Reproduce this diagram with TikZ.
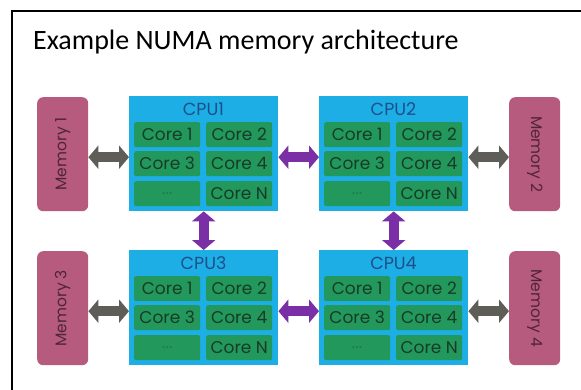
\documentclass[tikz,border=0pt]{standalone}
\usepackage{fontspec}
\setmainfont{Carlito}
\newfontfamily\labelfont{Poppins}
\usetikzlibrary{arrows.meta,positioning}

\definecolor{memfill}{HTML}{B75B7E}
\definecolor{memtext}{HTML}{4E2535}
\definecolor{cpufill}{HTML}{1DAEE6}
\definecolor{cputext}{HTML}{1C4F8C}
\definecolor{corefill}{HTML}{22985C}
\definecolor{coretext}{HTML}{173B27}
\definecolor{membus}{HTML}{5E5D57}
\definecolor{cpubus}{HTML}{7A2FA6}

\tikzset{
  memory/.style={draw=none, fill=memfill, rounded corners=6pt,
    minimum width=51pt, minimum height=114pt, inner sep=0pt, anchor=north west},
  memlabel/.style={font=\labelfont\fontsize{15.5}{15.5}\selectfont, text=memtext},
  cpubox/.style={draw=none, fill=cpufill, minimum width=149pt,
    minimum height=115pt, inner sep=0pt, anchor=north west},
  cputitle/.style={font=\labelfont\fontsize{17.5}{17.5}\selectfont, text=cputext},
  core/.style={fill=corefill, rounded corners=2pt, minimum width=66pt,
    minimum height=25pt, inner sep=0pt, anchor=north west,
    font=\labelfont\fontsize{17}{17}\selectfont, text=coretext},
  bus/.style={line width=10pt, {Triangle[length=10pt,width=23pt]}-{Triangle[length=10pt,width=23pt]}},
  membusline/.style={bus, draw=membus},
  cpubusline/.style={bus, draw=cpubus},
}

% one CPU package with its grid of cores
\newcommand{\cpupackage}[4]{% name, x, y, number
  \node[cpubox] (#1) at (#2,#3) {};
  \node[cputitle] (#1t) at (#2+74.5,#3+13) {CPU#4};
  \node[core] (#1c1) at (#2+5,#3+26) {Core 1};
  \node[core] (#1c2) at (#2+77,#3+26) {Core 2};
  \node[core] (#1c3) at (#2+5,#3+55) {Core 3};
  \node[core] (#1c4) at (#2+77,#3+55) {Core 4};
  \node[core] (#1c5) at (#2+5,#3+85) {\textcolor{corefill!70!coretext}{...}};
  \node[core] (#1c6) at (#2+77,#3+85) {Core N};
}

\begin{document}
\begin{tikzpicture}[x=1pt,y=-1pt]
  \useasboundingbox (0,0) rectangle (581,389);
  \clip (0,0) rectangle (581,389);
  \fill[white] (0,0) rectangle (581,389);

  % open frame running off the right and bottom edges
  \draw[line width=1.8pt] (12,400) -- (12,11) -- (600,11);
  \node[anchor=base west, inner sep=0pt, font=\fontsize{28}{28}\selectfont] (title) at (33,49) {Example NUMA memory architecture};

  % memory banks
  \node[memory] (mem1) at (37,97) {};
  \node[memory] (mem2) at (509,97) {};
  \node[memory] (mem3) at (37,251) {};
  \node[memory] (mem4) at (509,251) {};
  \node[memlabel, rotate=90] (mem1l) at (mem1.center) {Memory 1};
  \node[memlabel, rotate=-90] (mem2l) at (mem2.center) {Memory 2};
  \node[memlabel, rotate=90] (mem3l) at (mem3.center) {Memory 3};
  \node[memlabel, rotate=-90] (mem4l) at (mem4.center) {Memory 4};

  % processors
  \cpupackage{cpu1}{129}{96}{1}
  \cpupackage{cpu2}{319}{96}{2}
  \cpupackage{cpu3}{129}{250}{3}
  \cpupackage{cpu4}{319}{250}{4}

  % memory buses
  \draw[membusline] ([yshift=-3pt]mem1.east) -- ([yshift=-3pt]mem1.east -| cpu1.west);
  \draw[membusline] ([yshift=-3pt]mem2.west) -- ([yshift=-3pt]mem2.west -| cpu2.east);
  \draw[membusline] ([yshift=-3pt]mem3.east) -- ([yshift=-3pt]mem3.east -| cpu3.west);
  \draw[membusline] ([yshift=-3pt]mem4.west) -- ([yshift=-3pt]mem4.west -| cpu4.east);

  % processor interconnect
  \draw[cpubusline] ([yshift=-3pt]mem1.east -| cpu1.east) -- ([yshift=-3pt]mem1.east -| cpu2.west);
  \draw[cpubusline] ([yshift=-3pt]mem3.east -| cpu3.east) -- ([yshift=-3pt]mem3.east -| cpu4.west);
  \draw[cpubusline] (cpu1.south) -- (cpu3.north);
  \draw[cpubusline] (cpu2.south) -- (cpu4.north);
\end{tikzpicture}
\end{document}
